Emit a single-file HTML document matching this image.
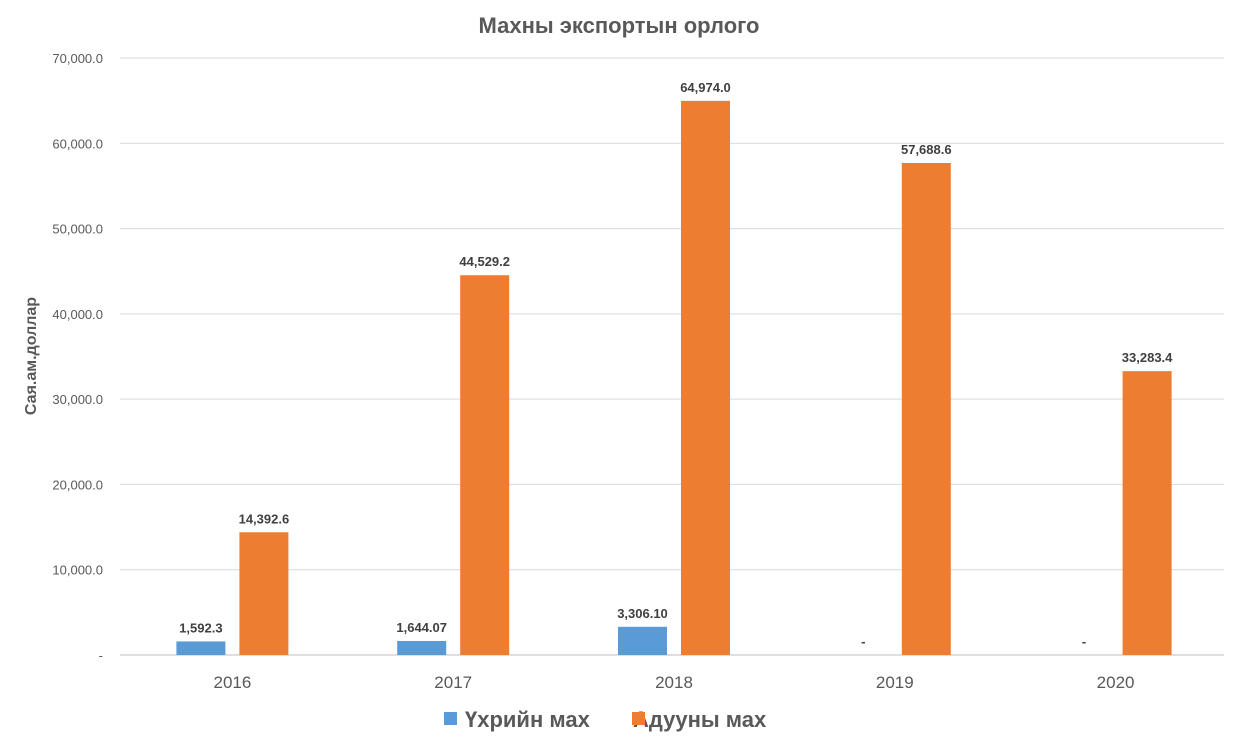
<!DOCTYPE html>
<html><head><meta charset="utf-8"><style>
body{margin:0;background:#fff;font-family:"Liberation Sans",Arial,sans-serif;}
</style></head><body>
<svg id="chart" width="1238" height="747" xmlns="http://www.w3.org/2000/svg">
<text x="619" y="33" text-anchor="middle" font-size="22" font-weight="bold" fill="#595959">Махны экспортын орлого</text>
<text transform="translate(36,356) rotate(-90)" text-anchor="middle" font-size="16" font-weight="bold" fill="#595959">Сая.ам.доллар</text>
<g id="grid"></g><g id="bars"></g><g id="labels"></g>
<g>
<rect x="444" y="712" width="13" height="13" fill="#5B9BD5"/>
<text x="465" y="727" font-size="22" font-weight="bold" fill="#595959">Үхрийн мах</text>
<text x="633" y="727" font-size="22" font-weight="bold" fill="#595959">Адууны мах</text>
<rect x="632" y="712" width="13" height="13" fill="#ED7D31"/>
</g>
</svg>
<script>
const categories=["2016","2017","2018","2019","2020"];
const seriesA=[1592.3,1644.07,3306.10,0,0];
const seriesALabels=["1,592.3","1,644.07","3,306.10","-","-"];
const seriesB=[14392.6,44529.2,64974.0,57688.6,33283.4];
const seriesBLabels=["14,392.6","44,529.2","64,974.0","57,688.6","33,283.4"];
const yTicks=[0,10000,20000,30000,40000,50000,60000,70000];
const yTickLabels=["-","10,000.0","20,000.0","30,000.0","40,000.0","50,000.0","60,000.0","70,000.0"];
const NS="http://www.w3.org/2000/svg";
const L=120,R=1224,T=58,B=655,YMAX=70000;
const y=v=>B-(v/YMAX)*(B-T);
const bw=(R-L)/categories.length;
const cx=i=>L+bw*(i+0.5)+2;
function mk(tag,attrs,parent){const e=document.createElementNS(NS,tag);for(const k in attrs)e.setAttribute(k,attrs[k]);parent.appendChild(e);return e;}
const grid=document.getElementById('grid'),bars=document.getElementById('bars'),labels=document.getElementById('labels');
yTicks.forEach((t,i)=>{
 const l=mk('line',{x1:L,x2:R,y1:y(t),y2:y(t),stroke:i==0?'#BFBFBF':'#D9D9D9','stroke-width':1},grid);
 
 
 const tx=mk('text',{x:103,y:y(t)+5,'text-anchor':'end','font-size':13,fill:'#595959'},grid);
 tx.textContent=yTickLabels[i];
 
 
});
const W=49,G=14;
categories.forEach((c,i)=>{
 const xa=cx(i)-G/2-W, xb=cx(i)+G/2;
 const a=mk('rect',{x:xa,y:y(seriesA[i]),width:W,height:B-y(seriesA[i]),fill:'#5B9BD5'},bars);
 
 
 const b=mk('rect',{x:xb,y:y(seriesB[i]),width:W,height:B-y(seriesB[i]),fill:'#ED7D31'},bars);
 
 
 const la=mk('text',{x:xa+W/2,y:y(seriesA[i])-9,'text-anchor':'middle','font-size':13,'font-weight':'bold',fill:'#404040'},labels);
 la.textContent=seriesALabels[i];
 
 
 const lb=mk('text',{x:xb+W/2,y:y(seriesB[i])-9,'text-anchor':'middle','font-size':13,'font-weight':'bold',fill:'#404040'},labels);
 lb.textContent=seriesBLabels[i];
 
 
 const xl=mk('text',{x:cx(i),y:688,'text-anchor':'middle','font-size':17,fill:'#595959'},labels);
 xl.textContent=c;
 
 
});
</script>
</body></html>
